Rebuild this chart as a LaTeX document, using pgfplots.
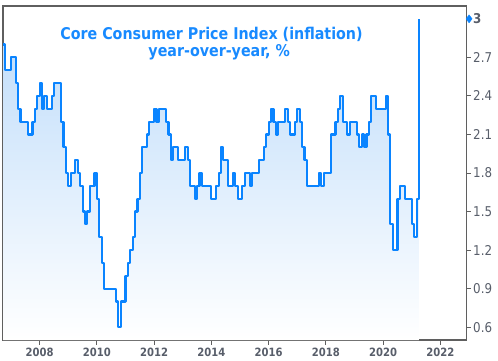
\documentclass[border=0pt]{standalone}
\usepackage{pgfplots}
\pgfplotsset{compat=1.18}
\usepackage{pgfplotstable}
\usepackage{fontspec}
\setmainfont{DejaVu Sans}
\newfontfamily\tfont[FakeStretch=0.88]{DejaVu Sans}
\definecolor{ttl}{RGB}{24,138,255}
\definecolor{ln}{RGB}{10,132,255}
\definecolor{axc}{RGB}{95,95,95}
\definecolor{tkc}{RGB}{88,94,106}
\definecolor{fillc}{RGB}{190,220,250}

\pgfplotstableread{
x y
2006.720 2.8
2006.780 2.6
2007.000 2.7
2007.083 2.7
2007.167 2.5
2007.250 2.3
2007.333 2.2
2007.417 2.2
2007.500 2.2
2007.583 2.1
2007.667 2.1
2007.750 2.2
2007.833 2.3
2007.917 2.4
2008.000 2.5
2008.083 2.3
2008.167 2.4
2008.250 2.3
2008.333 2.3
2008.417 2.4
2008.500 2.5
2008.583 2.5
2008.667 2.5
2008.750 2.2
2008.833 2.0
2008.917 1.8
2009.000 1.7
2009.083 1.8
2009.167 1.8
2009.250 1.9
2009.333 1.8
2009.417 1.7
2009.500 1.5
2009.583 1.4
2009.667 1.5
2009.750 1.7
2009.833 1.7
2009.917 1.8
2010.000 1.6
2010.083 1.3
2010.167 1.1
2010.250 0.9
2010.333 0.9
2010.417 0.9
2010.500 0.9
2010.583 0.9
2010.667 0.8
2010.750 0.6
2010.833 0.8
2010.917 0.8
2011.000 1.0
2011.083 1.1
2011.167 1.2
2011.250 1.3
2011.333 1.5
2011.417 1.6
2011.500 1.8
2011.583 2.0
2011.667 2.0
2011.750 2.1
2011.833 2.2
2011.917 2.2
2012.000 2.3
2012.083 2.2
2012.167 2.3
2012.250 2.3
2012.333 2.3
2012.417 2.2
2012.500 2.1
2012.583 1.9
2012.667 2.0
2012.750 2.0
2012.833 1.9
2012.917 1.9
2013.000 1.9
2013.083 2.0
2013.167 1.9
2013.250 1.7
2013.333 1.7
2013.417 1.6
2013.500 1.7
2013.583 1.8
2013.667 1.7
2013.750 1.7
2013.833 1.7
2013.917 1.7
2014.000 1.6
2014.083 1.6
2014.167 1.7
2014.250 1.8
2014.333 2.0
2014.417 1.9
2014.500 1.9
2014.583 1.7
2014.667 1.7
2014.750 1.8
2014.833 1.7
2014.917 1.6
2015.000 1.6
2015.083 1.7
2015.167 1.8
2015.250 1.8
2015.333 1.7
2015.417 1.8
2015.500 1.8
2015.583 1.8
2015.667 1.9
2015.750 1.9
2015.833 2.0
2015.917 2.1
2016.000 2.2
2016.083 2.3
2016.167 2.2
2016.250 2.1
2016.333 2.2
2016.417 2.2
2016.500 2.2
2016.583 2.3
2016.667 2.2
2016.750 2.1
2016.833 2.1
2016.917 2.2
2017.000 2.3
2017.083 2.2
2017.167 2.0
2017.250 1.9
2017.333 1.7
2017.417 1.7
2017.500 1.7
2017.583 1.7
2017.667 1.7
2017.750 1.8
2017.833 1.7
2017.917 1.8
2018.000 1.8
2018.083 1.8
2018.167 2.1
2018.250 2.1
2018.333 2.2
2018.417 2.3
2018.500 2.4
2018.583 2.2
2018.667 2.2
2018.750 2.1
2018.833 2.2
2018.917 2.2
2019.000 2.2
2019.083 2.1
2019.167 2.0
2019.250 2.1
2019.333 2.0
2019.417 2.1
2019.500 2.2
2019.583 2.4
2019.667 2.4
2019.750 2.3
2019.833 2.3
2019.917 2.3
2020.000 2.3
2020.083 2.4
2020.167 2.1
2020.250 1.4
2020.333 1.2
2020.417 1.2
2020.500 1.6
2020.583 1.7
2020.667 1.7
2020.750 1.6
2020.833 1.6
2020.917 1.6
2021.000 1.4
2021.083 1.3
2021.167 1.6
2021.250 3.0
}\cpi

\begin{document}
\begin{tikzpicture}
\useasboundingbox (0pt,0pt) rectangle (498pt,360pt);
\begin{axis}[
  at={(3pt,20pt)}, anchor=south west, scale only axis,
  width=463.5pt, height=334pt,
  xmin=2006.72, xmax=2022.91, ymin=0.5, ymax=3.1,
  clip=false,
  axis line style={axc, line width=1.2pt},
  tick style={axc, line width=1pt},
  tick align=outside, major tick length=4.5pt,
  xtick={2008,2010,...,2022}, xtick pos=left,
  ytick={0.6,0.9,1.2,1.5,1.8,2.1,2.4,2.7,3},
  yticklabels={0.6,0.9,1.2,1.5,1.8,2.1,2.4,2.7,\bfseries 3},
  ytick pos=right, yticklabel pos=right,
  /pgf/number format/assume math mode=true,
  xticklabel style={font=\tfont\bfseries\fontsize{11.4}{12}\selectfont, text=tkc,
     /pgf/number format/1000 sep={}},
  yticklabel style={font=\tfont\fontsize{13.5}{14}\selectfont, text=tkc, inner sep=2pt},
]
\addplot[const plot, draw=none, top color=fillc, bottom color=white]
  table {\cpi} |- (axis cs:2006.72,0.5) -- cycle;
\addplot[const plot, ln, line width=2.1pt, line join=round] table {\cpi};
\addplot[only marks, mark=diamond*, mark size=4pt, ln] coordinates {(2023.0,3.0)};
\end{axis}
\node[anchor=base, font=\tfont\bfseries\fontsize{16.2}{18}\selectfont, text=ttl]
  at (211.5pt,320.7pt) {Core Consumer Price Index (inflation)};
\node[anchor=base, font=\tfont\bfseries\fontsize{16.2}{18}\selectfont, text=ttl]
  at (219.2pt,303.3pt) {year-over-year, \%};
\end{tikzpicture}
\end{document}
